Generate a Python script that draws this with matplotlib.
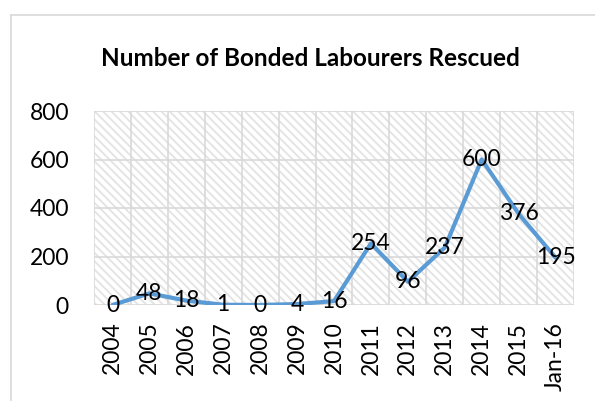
import matplotlib
matplotlib.use("Agg")
import matplotlib.pyplot as plt
from matplotlib.lines import Line2D
import numpy as np

categories = ["2004", "2005", "2006", "2007", "2008", "2009", "2010",
              "2011", "2012", "2013", "2014", "2015", "Jan-16"]
values = [0, 48, 18, 1, 0, 4, 16, 254, 96, 237, 600, 376, 195]
yticks = [0, 200, 400, 600, 800]
title = "Number of Bonded Labourers Rescued"

plt.rcParams['font.family'] = ['Lato', 'DejaVu Sans']
plt.rcParams['hatch.linewidth'] = 1.3
plt.rcParams['hatch.color'] = '#e3e3e3'

W, H = 595, 401
fig = plt.figure(figsize=(W / 100, H / 100), dpi=100)
fig.patch.set_facecolor('white')

L, R, T, B = 94, 574, 111, 305
ax = fig.add_axes([L / W, 1 - B / H, (R - L) / W, (B - T) / H])

x = np.arange(len(categories))
ax.set_xlim(-0.5, len(categories) - 0.5)
ax.set_ylim(0, 800)

# hatched background
ax.patch.set_facecolor('white')
ax.fill_between([-0.5, len(categories) - 0.5], 0, 800, facecolor='white',
                edgecolor='#e3e3e3', hatch='\\\\\\\\', linewidth=0, zorder=0)

# gridlines
for yv in yticks:
    ax.axhline(yv, color='#d9d9d9', lw=1.2, zorder=1)
for xb in np.arange(-0.5, len(categories), 1.0):
    ax.axvline(xb, color='#d9d9d9', lw=1.2, zorder=1)

ax.plot(x, values, color='#5b9bd5', lw=3.0, solid_capstyle='round',
        solid_joinstyle='round', zorder=3)

fs = 16.5
for xi, v in zip(x, values):
    ax.text(xi, v, str(v), ha='center', va='center', fontsize=fs,
            color='black', zorder=4)

ax.set_xticks(x)
ax.set_xticklabels(categories, rotation=90, fontsize=fs)
ax.set_yticks(yticks)
ax.set_yticklabels([str(t) for t in yticks], fontsize=fs)
ax.tick_params(axis='both', length=0)
ax.tick_params(axis='y', pad=18)
ax.tick_params(axis='x', pad=12)
for s in ax.spines.values():
    s.set_visible(False)

fig.text(310 / W, 1 - 59 / H, title, ha='center', va='center',
         fontsize=17.5, fontweight='bold')

# chart area border (left and top visible)
fig.add_artist(Line2D([11 / W, 11 / W], [0, 1 - 15 / H], color='#d9d9d9', lw=1.2,
                      transform=fig.transFigure))
fig.add_artist(Line2D([11 / W, 1], [1 - 15 / H, 1 - 15 / H], color='#d9d9d9', lw=1.2,
                      transform=fig.transFigure))

fig.savefig('out.png', dpi=100)
